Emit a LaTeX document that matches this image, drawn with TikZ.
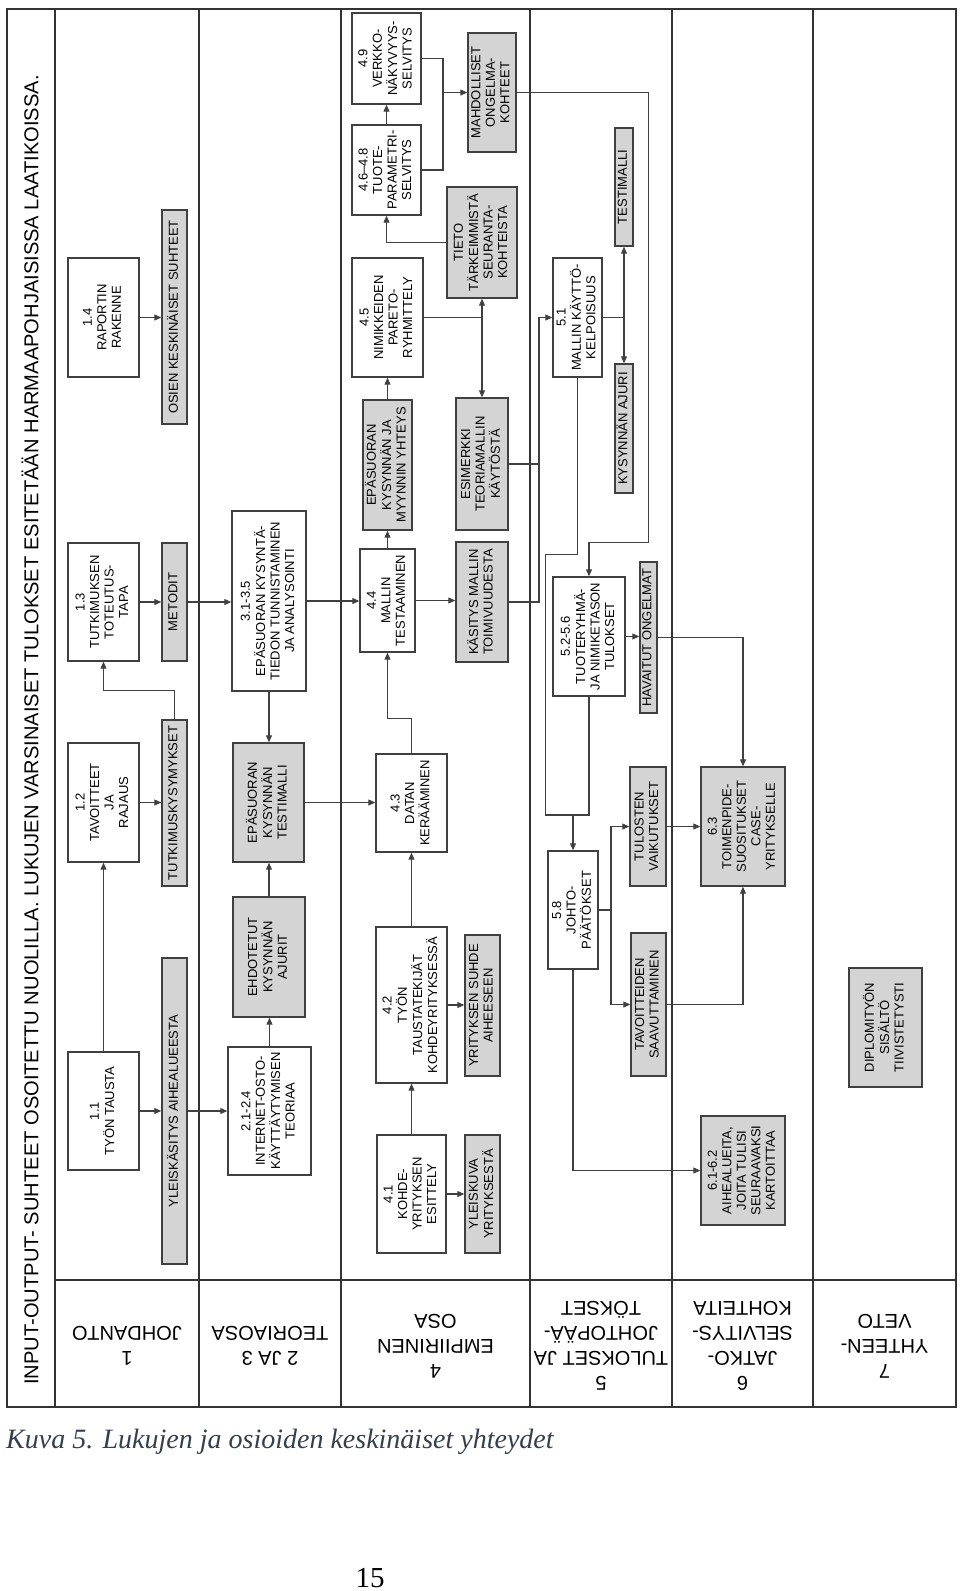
\documentclass[tikz,border=0pt]{standalone}
\usepackage{fontspec}
\setmainfont{Liberation Sans}
\newfontfamily\capfont{Liberation Serif}
\usepackage{graphicx}
\usetikzlibrary{arrows.meta}
\definecolor{capcol}{RGB}{52,62,78}
\newcommand{\rt}[1]{\rotatebox{90}{\begin{tabular}{@{}c@{}}#1\end{tabular}}}
\newcommand{\rtt}[1]{\rotatebox{180}{\begin{tabular}{@{}c@{}}#1\end{tabular}}}

\begin{document}
\begin{tikzpicture}[x=1pt,y=-1pt,
    frame/.style={line width=1.6pt,draw=black!80},
    cell/.style n args={4}{minimum width={(#3-#1)*1pt},minimum height={(#4-#2)*1pt},
        at={({(#1+#3)/2},{(#2+#4)/2})}},
    wbox/.style={draw=black!75,line width=1.4pt,fill=white,inner sep=0pt,font=\fontsize{13}{14.5}\selectfont},
    gbox/.style={wbox,fill=black!17},
    con/.style={draw=black!75,line width=1.1pt},
    arr/.style={con,-{Triangle[length=7pt,width=6pt]}},
    darr/.style={con,{Triangle[length=7pt,width=6pt]}-{Triangle[length=7pt,width=6pt]}},
    chap/.style={font=\fontsize{20}{25}\selectfont,inner sep=0pt}]
    \useasboundingbox (0,0) rectangle (960,1591);

    % kehys ja sarakkeet
    \draw[frame] (7,9) rectangle (956,1407);
    \draw[frame] (55,9) -- (55,1407);
    \foreach \x in {199,341,530,672,813} \draw[frame] (\x,9) -- (\x,1407);
    \draw[frame] (55,1280) -- (956,1280);

    \node[rotate=90,inner sep=0pt,font=\fontsize{20.1}{24}\selectfont] (title) at (30,730)
        {INPUT-OUTPUT- SUHTEET OSOITETTU NUOLILLA. LUKUJEN VARSINAISET TULOKSET ESITETÄÄN HARMAAPOHJAISISSA LAATIKOISSA.};

    % lukujen nimet
    \node[chap] (c1) at (127,1344) {\rtt{1\\JOHDANTO}};
    \node[chap] (c2) at (270,1344) {\rtt{2 JA 3\\TEORIAOSA}};
    \node[chap] (c4) at (435.5,1344) {\rtt{4\\EMPIIRINEN\\OSA}};
    \node[chap] (c5) at (601,1344) {\rtt{5\\TULOKSET JA\\JOHTOPÄÄ-\\TÖKSET}};
    \node[chap] (c6) at (742.5,1344) {\rtt{6\\JATKO-\\SELVITYS-\\KOHTEITA}};
    \node[chap] (c7) at (884.5,1344) {\rtt{7\\YHTEEN-\\VETO}};

    % luku 1
    \node[wbox,cell={68}{1052}{139}{1170}] (b11) {\rt{1.1\\TYÖN TAUSTA}};
    \node[wbox,cell={68}{743}{139}{862}] (b12) {\rt{1.2\\TAVOITTEET\\JA\\RAJAUS}};
    \node[wbox,cell={68}{543}{139}{661}] (b13) {\rt{1.3\\TUTKIMUKSEN\\TOTEUTUS-\\TAPA}};
    \node[wbox,cell={68}{258}{139}{377}] (b14) {\rt{1.4\\RAPORTIN\\RAKENNE}};
    \node[gbox,cell={162}{958}{187}{1264}] (r11) {\rt{YLEISKÄSITYS AIHEALUEESTA}};
    \node[gbox,cell={162}{720}{187}{886}] (r12) {\rt{TUTKIMUSKYSYMYKSET}};
    \node[gbox,cell={162}{543}{187}{661}] (r13) {\rt{METODIT}};
    \node[gbox,cell={162}{210}{187}{424}] (r14) {\rt{OSIEN KESKINÄISET SUHTEET}};

    % luvut 2 ja 3
    \node[wbox,cell={228}{1047}{311}{1175}] (b21) {\rt{2.1-2.4\\INTERNET-OSTO-\\KÄYTTÄYTYMISEN\\TEORIAA}};
    \node[gbox,cell={233}{897}{305}{1017}] (r21) {\rt{EHDOTETUT\\KYSYNNÄN\\AJURIT}};
    \node[gbox,cell={233}{743}{304}{862}] (r22) {\rt{EPÄSUORAN\\KYSYNNÄN\\TESTIMALLI}};
    \node[wbox,cell={232}{511}{306}{691}] (b31) {\rt{3.1-3.5\\EPÄSUORAN KYSYNTÄ-\\TIEDON TUNNISTAMINEN\\JA ANALYSOINTI}};

    % luku 4
    \node[wbox,cell={377}{1135}{446}{1253}] (b41) {\rt{4.1\\KOHDE-\\YRITYKSEN\\ESITTELY}};
    \node[gbox,cell={465}{1135}{500}{1253}] (r41) {\rt{YLEISKUVA\\YRITYKSESTÄ}};
    \node[wbox,cell={376}{927}{447}{1083}] (b42) {\rt{4.2\\TYÖN\\TAUSTATEKIJÄT\\KOHDEYRITYKSESSÄ}};
    \node[gbox,cell={465}{935}{500}{1076}] (r42) {\rt{YRITYKSEN SUHDE\\AIHEESEEN}};
    \node[wbox,cell={376}{754}{447}{852}] (b43) {\rt{4.3\\DATAN\\KERÄÄMINEN}};
    \node[wbox,cell={360}{549}{415}{652}] (b44) {\rt{4.4\\MALLIN\\TESTAAMINEN}};
    \node[gbox,cell={363}{400}{412}{530}] (r44a) {\rt{EPÄSUORAN\\KYSYNNÄN JA\\MYYNNIN YHTEYS}};
    \node[gbox,cell={456}{542}{508}{662}] (r44b) {\rt{KÄSITYS MALLIN\\TOIMIVUUDESTA}};
    \node[gbox,cell={456}{398}{508}{530}] (r44c) {\rt{ESIMERKKI\\TEORIAMALLIN\\KÄYTÖSTÄ}};
    \node[wbox,cell={352}{258}{423}{377}] (b45) {\rt{4.5\\NIMIKKEIDEN\\PARETO-\\RYHMITTELY}};
    \node[gbox,cell={447}{187}{517}{298}] (r45) {\rt{TIETO\\TÄRKEIMMISTÄ\\SEURANTA-\\KOHTEISTA}};
    \node[wbox,cell={352}{125}{421}{215}] (b46) {\rt{4.6–4.8\\TUOTE-\\PARAMETRI-\\SELVITYS}};
    \node[wbox,cell={352}{13}{421}{104}] (b49) {\rt{4.9\\VERKKO-\\NÄKYVYYS-\\SELVITYS}};
    \node[gbox,cell={468}{33}{516}{152}] (r49) {\rt{MAHDOLLISET\\ONGELMA-\\KOHTEET}};

    % luku 5
    \node[wbox,cell={553}{258}{602}{377}] (b51) {\rt{5.1\\MALLIN KÄYTTÖ-\\KELPOISUUS}};
    \node[gbox,cell={615}{128}{633}{246}] (r51a) {\rt{TESTIMALLI}};
    \node[gbox,cell={615}{364}{633}{493}] (r51b) {\rt{KYSYNNÄN AJURI}};
    \node[wbox,cell={553}{577}{625}{696}] (b52) {\rt{5.2-5.6\\TUOTERYHMÄ-\\JA NIMIKETASON\\TULOKSET}};
    \node[gbox,cell={640}{562}{657}{713}] (r52) {\rt{HAVAITUT ONGELMAT}};
    \node[wbox,cell={548}{851}{598}{969}] (b58) {\rt{5.8\\JOHTO-\\PÄÄTÖKSET}};
    \node[gbox,cell={630}{767}{666}{886}] (r53) {\rt{TULOSTEN\\VAIKUTUKSET}};
    \node[gbox,cell={631}{933}{666}{1076}] (r54) {\rt{TAVOITTEIDEN\\SAAVUTTAMINEN}};

    % luvut 6 ja 7
    \node[gbox,cell={701}{767}{785}{886}] (r63) {\rt{6.3\\TOIMENPIDE-\\SUOSITUKSET\\CASE-\\YRITYKSELLE}};
    \node[gbox,cell={701}{1116}{785}{1225}] (r62) {\rt{6.1-6.2\\AIHEALUEITA,\\JOITA TULISI\\SEURAAVAKSI\\KARTOITTAA}};
    \node[gbox,cell={849}{968}{922}{1087}] (r71) {\rt{DIPLOMITYÖN\\SISÄLTÖ\\TIIVISTETYSTI}};

    % nuolet, luku 1
    \draw[arr] (b11.north) -- (b12.south);
    \draw[arr] (b11.east) -- (b11.east -| r11.west);
    \draw[arr] (b12.east) -- (b12.east -| r12.west);
    \draw[arr] (b13.east) -- (b13.east -| r13.west);
    \draw[arr] (b14.east) -- (b14.east -| r14.west);
    \draw[arr] (r12.north) -- ++(0,-29) -| (b13.south);
    \draw[arr] (r11.east) -- (r11.east -| b21.west);
    \draw[arr] (r13.east) -- (r13.east -| b31.west);

    % luvut 2 ja 3
    \draw[arr] (b21.north) -- (b21.north |- r21.south);
    \draw[arr] (r21.north) -- (r21.north |- r22.south);
    \draw[arr] (b31.south) -- (b31.south |- r22.north);
    \draw[arr] (r22.east) -- (r22.east -| b43.west);
    \draw[arr] (b31.east) -- (b31.east -| b44.west);

    % luku 4
    \draw[arr] (b41.north) -- (b42.south);
    \draw[arr] (b41.east) -- (b41.east -| r41.west);
    \draw[arr] (b42.north) -- (b43.south);
    \draw[arr] (b42.east) -- (b42.east -| r42.west);
    \draw[arr] (b43.north) -- ++(0,-35) -| (b44.south);
    \draw[arr] (b44.north) -- (b44.north |- r44a.south);
    \draw[arr] (r44a.north) -- (r44a.north |- b45.south);
    \draw[arr] (b44.east) -- (b44.east -| r44b.west);
    \draw[con] (b45.east) -- (b45.east -| r45.south);
    \draw[darr] (r45.south) -- (r44c.north);
    \draw[arr] (r45.west) -| (b46.south);
    \draw[arr] (b46.north) -- (b49.south);
    \coordinate (m49) at (443,92.5);
    \draw[con] (b49.east) -| (m49) |- (b46.east);
    \draw[arr] (m49) -- (r49.west);
    \draw[arr] (r49.east) -| ++(132,450) -| (b52.north);
    \coordinate (j51) at (539,317.5);
    \draw[arr] (r44b.east) -| (j51) -- (b51.west);
    \draw[con] (r44c.east) -- (r44c.east -| j51);

    % luku 5
    \draw[con] (b51.east) -- (b51.east -| r51a.south);
    \draw[darr] (r51a.south) -- (r51b.north);
    \draw[arr] (b52.east) -- (b52.east -| r52.west);
    \coordinate (j58) at (573,815);
    \draw[con] (b51.south) |- ++(-32,177) |- (b52.south |- j58) -- (b52.south);
    \draw[arr] (j58) -- (b58.north);
    \coordinate (j53) at (611,910);
    \draw[con] (b58.east) -- (j53);
    \draw[arr] (j53) |- (r53.west);
    \draw[arr] (j53) |- (r54.west);
    \draw[arr] (b58.south) |- (r62.west);

    % luku 6
    \draw[arr] (r53.east) -- (r53.east -| r63.west);
    \draw[arr] (r54.east) -| (r63.south);
    \draw[arr] (r52.east) -| (r63.north);

    % kuvateksti
    \node[anchor=base west,inner sep=0pt,text=capcol,font=\capfont\fontsize{28}{30}\selectfont\itshape] (cap) at (6,1448)
        {Kuva 5. Lukujen ja osioiden keskinäiset yhteydet};
    \node[anchor=base,inner sep=0pt,font=\capfont\fontsize{29}{30}\selectfont] (pg) at (370,1587) {15};
\end{tikzpicture}
\end{document}
